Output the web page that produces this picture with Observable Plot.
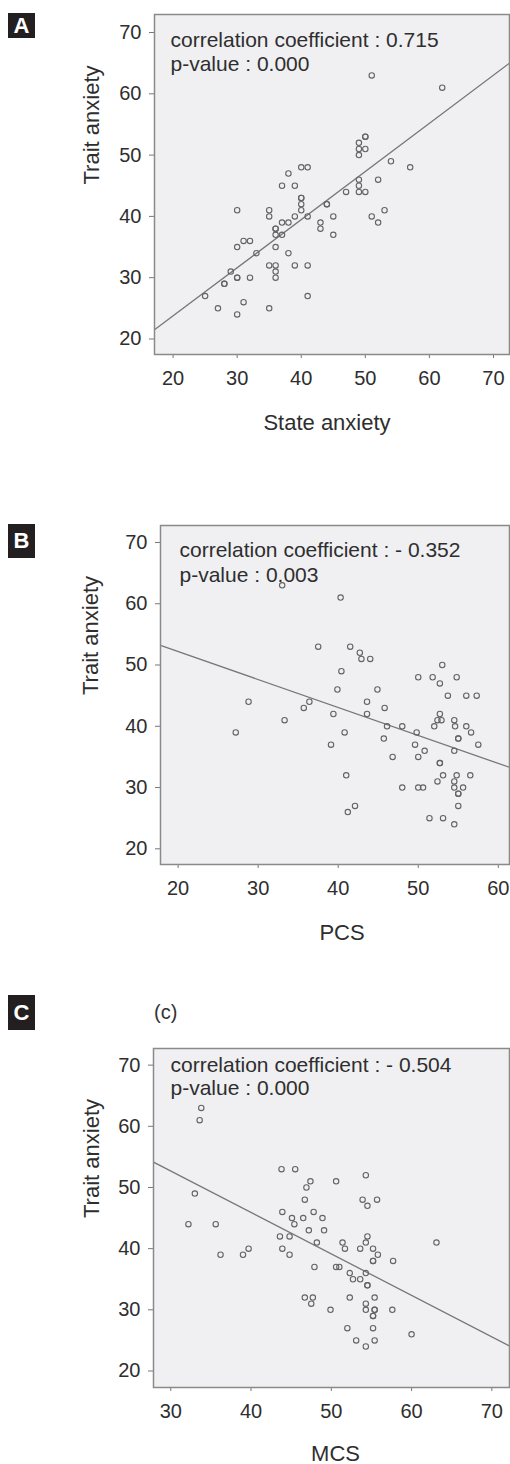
<!DOCTYPE html>
<html>
<head>
<meta charset="utf-8">
<script src="https://cdn.jsdelivr.net/npm/d3@7"></script>
<script src="https://cdn.jsdelivr.net/npm/@observablehq/plot@0.6"></script>
<style>
  html, body { margin: 0; padding: 0; background: #ffffff; }
  body { position: relative; width: 510px; height: 1464px; overflow: hidden; font-family: "Liberation Sans", Arial, sans-serif; }
  .panel { position: absolute; left: 0; width: 510px; }
  .badge { position: absolute; left: 8px; width: 27px; background: #231f20; color: #fff;
           font-family: "Liberation Sans Narrow", "Liberation Sans", Arial, sans-serif; font-weight: bold;
           font-size: 22px; display: flex; align-items: center; justify-content: center; }
  .ctag { position: absolute; left: 154px; top: 1001px; font-size: 20px; color: #333; }
</style>
</head>
<body>
<script>
// ---- Panel A: State anxiety vs Trait anxiety ----
const stateAnxiety = [40,41,38,54,57,37,39,49,52,49,47,49,50,40,40,40,44,44,30,35,40,53,35,39,41,45,51,37,38,43,52,36,36,43,36,37,45,31,32,30,36,33,38,29,35,36,39,41,36,28,28,30,30,32,36,25,41,27,31,30,35,51,62,50,50,49,49,50,49];
const traitA       = [48,48,47,49,48,45,45,46,46,45,44,44,44,43,43,42,42,42,41,41,41,41,40,40,40,40,40,39,39,39,39,38,38,38,37,37,37,36,36,35,35,34,34,31,32,32,32,32,31,29,29,30,30,30,30,27,27,25,26,24,25,63,61,53,53,52,51,51,50];
const fitAx = [17.1, 72.5];
const fitAy = [21.5, 65.0];
const textA = ["correlation coefficient : 0.715", "p-value : 0.000"];

// ---- Panel B: PCS vs Trait anxiety ----
const pcs    = [37.5,41.5,42.7,42.9,44.0,53.0,40.4,50.0,51.8,54.8,52.7,39.9,44.9,53.7,56.0,57.3,28.8,36.4,43.6,35.7,45.8,39.4,43.6,52.7,33.3,52.4,52.9,54.5,46.1,48.0,52.0,54.6,56.0,27.2,40.8,49.8,56.6,45.7,55.0,55.0,39.1,49.6,57.5,50.8,54.5,46.8,50.0,52.7,52.7,41.0,53.1,54.8,56.5,52.4,54.5,48.0,50.0,50.6,54.5,55.6,55.0,55.0,55.0,42.1,41.2,51.4,53.1,54.5,33.0,40.3];
const traitB = [53,53,52,51,51,50,49,48,48,48,47,46,46,45,45,45,44,44,44,43,43,42,42,42,41,41,41,41,40,40,40,40,40,39,39,39,39,38,38,38,37,37,37,36,36,35,35,34,34,32,32,32,32,31,31,30,30,30,30,30,29,29,27,27,26,25,25,24,63,61];
const fitBx = [17.8, 61.4];
const fitBy = [53.2, 33.3];
const textB = ["correlation coefficient : - 0.352", "p-value : 0.003"];

// ---- Panel C: MCS vs Trait anxiety ----
const mcs    = [33.8,33.6,43.8,45.5,54.3,47.4,50.6,46.9,33.0,46.7,53.9,55.7,54.5,43.9,47.8,45.1,46.5,48.9,32.2,35.6,45.4,47.2,49.1,43.6,44.8,54.5,48.2,51.4,54.3,63.1,39.7,43.9,51.7,53.6,55.2,36.2,39.0,44.8,55.8,55.2,55.2,57.7,47.9,50.6,51.0,52.3,54.3,52.7,53.6,54.5,54.5,46.7,47.7,52.3,55.4,47.5,54.3,49.9,54.3,55.4,55.4,57.6,55.2,55.2,52.0,55.2,60.0,53.1,55.4,54.3];
const traitC = [63,61,53,53,52,51,51,50,49,48,48,48,47,46,46,45,45,45,44,44,44,43,43,42,42,42,41,41,41,41,40,40,40,40,40,39,39,39,39,38,38,38,37,37,37,36,36,35,35,34,34,32,32,32,32,31,31,30,30,30,30,30,29,29,27,27,26,25,25,24];
const fitCx = [27.85, 72.2];
const fitCy = [54.15, 24.1];
const textC = ["correlation coefficient : - 0.504", "p-value : 0.000"];

const yTicks = [20, 30, 40, 50, 60, 70];
const xTicksA = [20, 30, 40, 50, 60, 70];
const xTicksB = [20, 30, 40, 50, 60];
const xTicksC = [30, 40, 50, 60, 70];
const yLabel = "Trait anxiety";
const panelLabels = ["A", "B", "C"];

const BG = "#f0f0f2", INK = "#2e2e2e", GRAY = "#777777";

function panel(o) {
  const pts = o.xs.map((x, i) => ({x, y: o.ys[i]}));
  const fit = o.fx.map((x, i) => ({x, y: o.fy[i]}));
  const svg = Plot.plot({
    width: 510, height: o.height,
    marginTop: o.mt, marginBottom: o.mb, marginLeft: o.ml, marginRight: 1,
    x: {domain: o.xDomain},
    y: {domain: o.yDomain},
    style: {fontFamily: "'Liberation Sans', Arial, sans-serif", color: INK, background: "transparent", overflow: "visible"},
    marks: [
      Plot.frame({fill: BG, stroke: "none"}),
      Plot.axisX(o.xTicks, {tickSize: 4, tickPadding: 12, label: null, fontSize: 20, stroke: GRAY, fill: INK}),
      Plot.axisY(yTicks, {tickSize: 5, tickPadding: 8, label: null, fontSize: 20, stroke: GRAY, fill: INK}),
      Plot.line(fit, {x: "x", y: "y", stroke: GRAY, strokeWidth: 1.3, clip: true}),
      Plot.dot(pts, {x: "x", y: "y", r: 2.7, stroke: "#636363", strokeWidth: 1.1, fill: "none"}),
      Plot.frame({stroke: "#8a8a8a", strokeWidth: 1.5, fill: "none"}),
      Plot.text([o.xLabel], {frameAnchor: "bottom", dx: o.xlDx, dy: o.xlDy, lineAnchor: "middle", fontSize: 22, fill: INK}),
      Plot.text([yLabel], {frameAnchor: "left", dx: o.ylDx, rotate: -90, lineAnchor: "middle", fontSize: 22, fill: INK}),
      Plot.text([o.text[0]], {frameAnchor: "top-left", dx: o.tDx, dy: o.tDy1, textAnchor: "start", lineAnchor: "middle", fontSize: 21, fill: INK}),
      Plot.text([o.text[1]], {frameAnchor: "top-left", dx: o.tDx, dy: o.tDy2, textAnchor: "start", lineAnchor: "middle", fontSize: 21, fill: INK})
    ]
  });
  const div = document.createElement("div");
  div.className = "panel";
  div.style.top = o.top + "px";
  div.appendChild(svg);
  document.body.appendChild(div);
}

panel({top: 0, height: 440, mt: 14, mb: 86, ml: 154,
  xDomain: [17.1, 72.5], yDomain: [17.47, 72.94], xTicks: xTicksA,
  xs: stateAnxiety, ys: traitA, fx: fitAx, fy: fitAy,
  xLabel: "State anxiety", xlDx: -5, xlDy: 68, ylDx: -63,
  text: textA, tDx: 16, tDy1: 26, tDy2: 50});

panel({top: 480, height: 480, mt: 45, mb: 96, ml: 160,
  xDomain: [17.8, 61.4], yDomain: [17.44, 72.77], xTicks: xTicksB,
  xs: pcs, ys: traitB, fx: fitBx, fy: fitBy,
  xLabel: "PCS", xlDx: 7, xlDy: 68, ylDx: -70,
  text: textB, tDx: 19, tDy1: 25, tDy2: 50});

panel({top: 980, height: 484, mt: 68, mb: 77, ml: 153,
  xDomain: [27.85, 72.2], yDomain: [17.3, 72.72], xTicks: xTicksC,
  xs: mcs, ys: traitC, fx: fitCx, fy: fitCy,
  xLabel: "MCS", xlDx: 4, xlDy: 66, ylDx: -62,
  text: textC, tDx: 17, tDy1: 16.5, tDy2: 40});

// Panel badges and the "(c)" tag
const badgeBoxes = [[13, 25], [524, 34], [995, 35]];
panelLabels.forEach((t, i) => {
  const b = document.createElement("div");
  b.className = "badge";
  b.style.top = badgeBoxes[i][0] + "px";
  b.style.height = badgeBoxes[i][1] + "px";
  b.textContent = t;
  document.body.appendChild(b);
});
const ctag = document.createElement("div");
ctag.className = "ctag";
ctag.textContent = "(c)";
document.body.appendChild(ctag);
</script>
</body>
</html>
